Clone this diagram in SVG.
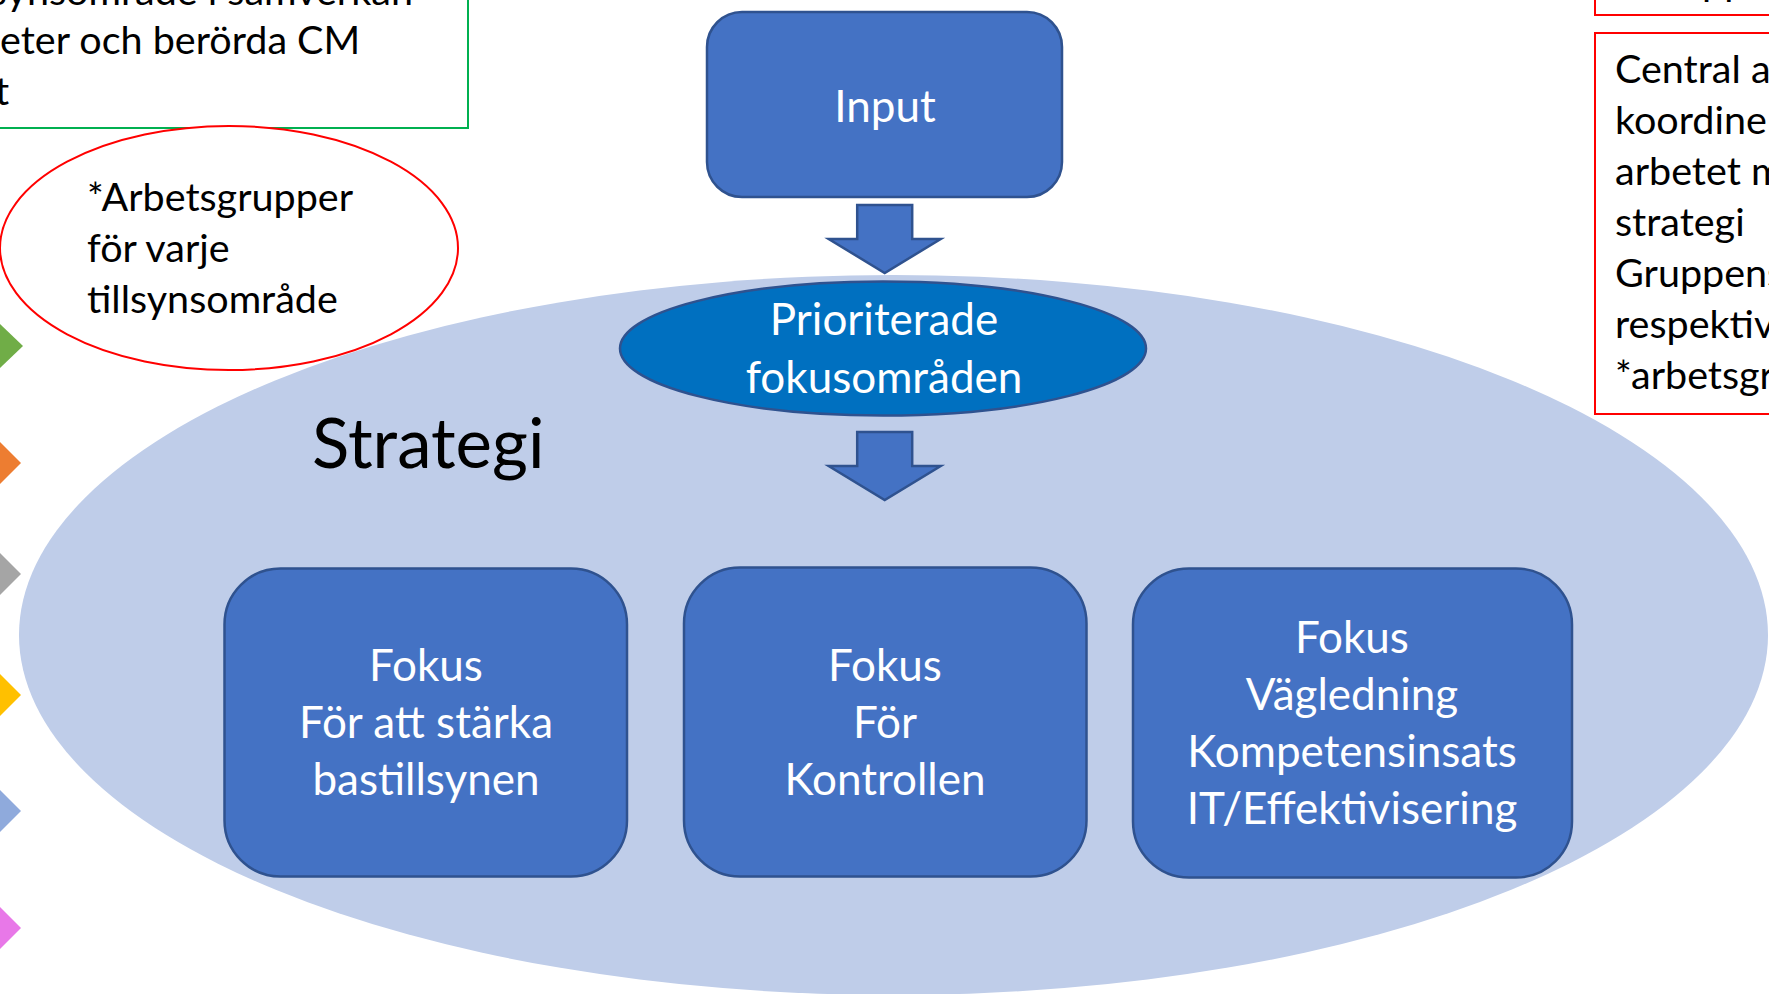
<svg xmlns="http://www.w3.org/2000/svg" width="1769" height="994" viewBox="0 0 1769 994">
  <style>
    .txt { font-family: Lato, "Open Sans", "Liberation Sans", sans-serif; }
    .dark { fill: #000000; font-size: 39.5px; }
    .white { fill: #FFFFFF; font-size: 44px; text-anchor: middle; }
    .blue { fill: #4472C4; stroke: #2F528F; stroke-width: 2.5; }
    .redbox { fill: #FFFFFF; stroke: #FF0000; stroke-width: 2; }
  </style>
  <defs>
    <path id="arrowShape" d="M-27.5,0 H27.5 V34 H56 L0,68 L-56,34 H-27.5 Z"/>
  </defs>
  <rect width="1769" height="994" fill="#FFFFFF"/>

  <g id="strategi-area">
    <ellipse cx="893.5" cy="635" rx="874.5" ry="360" fill="#BFCDE9"/>
    <text class="txt" x="312" y="468" font-size="69" fill="#000000">Strategi</text>
  </g>

  <g id="note-top-left">
    <rect x="-10" y="-60" width="478" height="188" fill="#FFFFFF" stroke="#00B050" stroke-width="2"/>
    <text class="txt dark" x="413" y="5" text-anchor="end">synsområde i samverkan</text>
    <text class="txt dark" x="0" y="54">eter och berörda CM</text>
    <text class="txt dark" x="-5" y="105">t</text>
  </g>

  <g id="arbetsgrupper">
    <ellipse cx="229" cy="248" rx="229" ry="122" fill="#FFFFFF" stroke="#FF0000" stroke-width="2"/>
    <text class="txt dark" x="87" y="211">*Arbetsgrupper</text>
    <text class="txt dark" x="87" y="262">för varje</text>
    <text class="txt dark" x="87" y="313">tillsynsområde</text>
  </g>

  <g id="note-top-right">
    <rect class="redbox" x="1595" y="-60" width="200" height="75"/>
    <text class="txt dark" x="1702" y="-5">pp</text>
  </g>

  <g id="note-right">
    <rect class="redbox" x="1595" y="33" width="200" height="381"/>
    <text class="txt dark" x="1615" y="83">Central a</text>
    <text class="txt dark" x="1615" y="134">koordine</text>
    <text class="txt dark" x="1615" y="185">arbetet m</text>
    <text class="txt dark" x="1615" y="236">strategi</text>
    <text class="txt dark" x="1615" y="287">Gruppens</text>
    <text class="txt dark" x="1615" y="338">respektiv</text>
    <text class="txt dark" x="1615" y="389">*arbetsgr</text>
  </g>

  <g id="markers">
    <polygon points="0,324 23,346 0,368 -23,346" fill="#70AD47"/>
    <polygon points="0,442 21,463 0,484 -21,463" fill="#ED7D31"/>
    <polygon points="0,553 21,574 0,595 -21,574" fill="#A5A5A5"/>
    <polygon points="0,674 21,695 0,716 -21,695" fill="#FFC000"/>
    <polygon points="0,790 21,811 0,832 -21,811" fill="#8FAADC"/>
    <polygon points="0,907 21,928 0,949 -21,928" fill="#E878E8"/>
  </g>

  <g id="input">
    <rect class="blue" x="707" y="12" width="355" height="185" rx="35" ry="35"/>
    <text class="txt white" x="885" y="122">Input</text>
  </g>

  <g id="prioriterade">
    <ellipse cx="883" cy="348.5" rx="263" ry="67" fill="#0070C0" stroke="#2F528F" stroke-width="2.5"/>
    <text class="txt white" x="884" y="335">Prioriterade</text>
    <text class="txt white" x="884" y="393">fokusområden</text>
  </g>

  <g id="fokus-bastillsyn">
    <rect class="blue" x="224.5" y="568.5" width="402.5" height="308" rx="56" ry="56"/>
    <text class="txt white" x="426" y="681">Fokus</text>
    <text class="txt white" x="426" y="738">För att stärka</text>
    <text class="txt white" x="426" y="795">bastillsynen</text>
  </g>

  <g id="fokus-kontrollen">
    <rect class="blue" x="684" y="567.5" width="402.5" height="309" rx="56" ry="56"/>
    <text class="txt white" x="885" y="681">Fokus</text>
    <text class="txt white" x="885" y="738">För</text>
    <text class="txt white" x="885" y="795">Kontrollen</text>
  </g>

  <g id="fokus-vagledning">
    <rect class="blue" x="1133" y="568.5" width="439" height="309" rx="56" ry="56"/>
    <text class="txt white" x="1352" y="653">Fokus</text>
    <text class="txt white" x="1352" y="710">Vägledning</text>
    <text class="txt white" x="1352" y="767">Kompetensinsats</text>
    <text class="txt white" x="1352" y="824">IT/Effektivisering</text>
  </g>

  <g id="connectors">
    <use href="#arrowShape" x="884.7" y="205" class="blue"/>
    <use href="#arrowShape" x="884.7" y="432" class="blue"/>
  </g>
</svg>
